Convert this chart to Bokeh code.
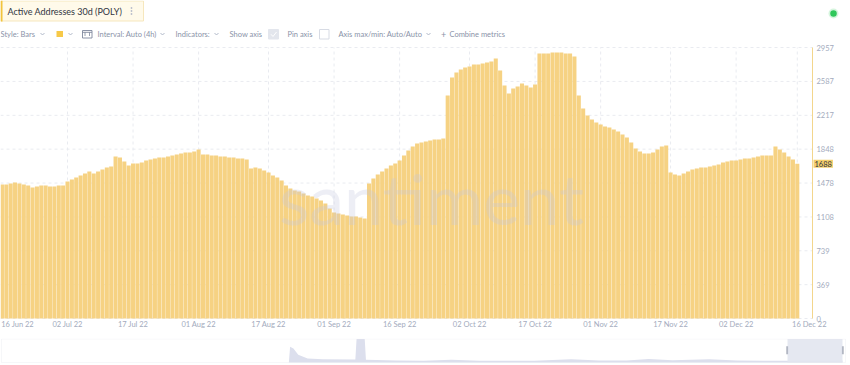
from datetime import datetime, timedelta
from bokeh.plotting import figure
from bokeh.layouts import column
from bokeh.models import Range1d, Label, BoxAnnotation, ColumnDataSource
from bokeh.core.properties import value
from bokeh.embed import file_html
from bokeh.resources import INLINE

# ---------------- data ----------------
metric_title = "Active Addresses 30d (POLY)"
first_day = datetime(2022, 6, 17)
addresses = [
    1462, 1462, 1473, 1484, 1473, 1462, 1451, 1429, 1440, 1451, 1451, 1440, 1440, 1451, 1451,
    1495, 1516, 1538, 1560, 1582, 1604, 1582, 1604, 1626, 1647, 1658,
    1767, 1757, 1713, 1669, 1691, 1691,
    1702, 1724, 1735, 1746, 1757, 1757, 1767, 1778, 1789, 1800, 1811, 1811, 1822, 1844,
    1789, 1789, 1778, 1778, 1767, 1767, 1757, 1757, 1746, 1746, 1735,
    1637, 1647, 1637, 1615, 1593, 1560, 1538, 1506,
    1451, 1418, 1396, 1386, 1364, 1342, 1331, 1309, 1287,
    1255, 1200, 1156, 1146, 1135, 1124, 1113, 1113, 1102, 1091,
    1473, 1527, 1571, 1604, 1637, 1669, 1691, 1724, 1778, 1833, 1877, 1909, 1920, 1931, 1942, 1953, 1953, 1964,
    2433, 2629, 2684, 2717, 2738, 2749, 2771, 2771, 2782, 2793, 2804, 2837,
    2706, 2542, 2455, 2509, 2531, 2564, 2542, 2520, 2553,
    2891, 2891, 2891, 2902, 2902, 2902, 2891, 2891, 2858,
    2433, 2291, 2215, 2171, 2138, 2117, 2095, 2084, 2062, 2040, 2007, 1975, 1920, 1855, 1822, 1800, 1800, 1811, 1844, 1877, 1887,
    1593, 1571, 1560, 1582, 1604, 1626, 1637, 1647, 1647, 1658, 1669, 1680, 1702, 1713, 1724, 1724, 1735, 1746, 1746, 1757, 1767, 1778, 1778, 1778,
    1877, 1844, 1811, 1767, 1735, 1688,
]
dates = [first_day + timedelta(days=i) for i in range(len(addresses))]
last_value = addresses[-1]

x_tick_dates = [datetime(2022, 6, 16), datetime(2022, 7, 2), datetime(2022, 7, 17),
                datetime(2022, 8, 1), datetime(2022, 8, 17), datetime(2022, 9, 1),
                datetime(2022, 9, 16), datetime(2022, 10, 2), datetime(2022, 10, 17),
                datetime(2022, 11, 1), datetime(2022, 11, 17), datetime(2022, 12, 2),
                datetime(2022, 12, 16)]
x_tick_labels = ["16 Jun 22", "02 Jul 22", "17 Jul 22", "01 Aug 22", "17 Aug 22", "01 Sep 22",
                 "16 Sep 22", "02 Oct 22", "17 Oct 22", "01 Nov 22", "17 Nov 22", "02 Dec 22",
                 "16 Dec 22"]
y_ticks = [0, 369, 739, 1108, 1478, 1848, 2217, 2587, 2957]
y_max = 2957

# overview (navigator) series
nav_dates = [datetime(2017, 12, 10), datetime(2017, 12, 14), datetime(2017, 12, 25),
             datetime(2018, 1, 10), datetime(2018, 2, 10), datetime(2018, 4, 1),
             datetime(2018, 7, 18), datetime(2018, 7, 22), datetime(2018, 8, 18),
             datetime(2018, 8, 22), datetime(2018, 12, 1), datetime(2019, 3, 1),
             datetime(2019, 6, 1), datetime(2019, 9, 1), datetime(2020, 3, 1),
             datetime(2020, 7, 1), datetime(2020, 10, 1), datetime(2021, 1, 1),
             datetime(2021, 3, 15), datetime(2021, 6, 1), datetime(2021, 10, 1),
             datetime(2022, 1, 1), datetime(2022, 6, 17), datetime(2022, 12, 16)]
nav_values = [0, 14000, 12500, 7000, 3500, 2800, 2600, 21000, 21000, 2500, 1800, 1500,
              2500, 1600, 1500, 3000, 1800, 1900, 3200, 2000, 2800, 1700, 1500, 1700]
selection = (datetime(2022, 6, 17), datetime(2022, 12, 16))

toolbar_items = ["Style: Bars", "Interval: Auto (4h)", "Indicators:", "Show axis", "Pin axis",
                 "Axis max/min: Auto/Auto", "Combine metrics"]

# ---------------- helpers ----------------
EPOCH = datetime(1970, 1, 1)
DAY_MS = 86400000.0


def ms(d):
    return (d - EPOCH).total_seconds() * 1000.0


FONT = value("Lato")
GREY = "#8a93a8"
LABEL_GREY = "#a3abbd"
BAR = "#f6d283"
GRID = "#e9ebf0"

# ---------------- header ----------------
head = figure(width=850, height=40, x_range=Range1d(0, 850), y_range=Range1d(40, 0),
              x_axis_type=None, y_axis_type=None, toolbar_location=None,
              output_backend="svg", min_border=0)
head.outline_line_color = None
head.quad(left=[0.5], right=[143], top=[0.5], bottom=[20.5], fill_color="#fffaea",
          line_color="#f6e7bd")
head.quad(left=[0], right=[2], top=[0], bottom=[21], fill_color="#f2c43d", line_color=None)
head.text(x=[7], y=[11], text=[metric_title], text_font=FONT, text_font_size="9px",
          text_color="#30353f", text_baseline="middle")
head.scatter(x=[131, 131, 131], y=[7.5, 10.5, 13.5], size=1.8, color="#b8bdca", line_color=None)
head.scatter(x=[833], y=[13], size=10, color="#d6f5de", line_color=None)
head.scatter(x=[833], y=[13], size=6.5, color="#2fc75a", line_color=None)

ty = 33.5
tool_x = [0, 97, 175, 229, 287, 338, 449]
head.text(x=tool_x, y=[ty] * len(tool_x), text=toolbar_items, text_font=FONT,
          text_font_size="7.5px", text_color=GREY, text_baseline="middle")
for cx in [42, 70, 162, 216, 428]:
    head.line(x=[cx - 2, cx, cx + 2], y=[32.5, 34.5, 32.5], line_color="#a8b0c2", line_width=0.9)
head.quad(left=[56], right=[62.5], top=[30.5], bottom=[36.5], fill_color="#f7c948", line_color=None)
head.quad(left=[82], right=[91.5], top=[30], bottom=[37.5], fill_color=None,
          line_color="#7f889d", line_width=0.9)
head.line(x=[82, 91.5], y=[31.8, 31.8], line_color="#7f889d", line_width=0.9)
head.segment(x0=[84.5, 89], y0=[31.8, 31.8], x1=[84.5, 89], y1=[35.5, 35.5],
             line_color="#7f889d", line_width=0.8)
head.quad(left=[268], right=[278], top=[29], bottom=[38.5], fill_color="#e3e6ed", line_color="#e3e6ed")
head.line(x=[270.5, 272.5, 276], y=[33.8, 36, 31.5], line_color="#ffffff", line_width=1)
head.quad(left=[319], right=[328.5], top=[29], bottom=[38.5], fill_color="#ffffff", line_color="#d7dbe4")
head.text(x=[443], y=[ty], text=["+"], text_font=FONT, text_font_size="9px",
          text_color=GREY, text_baseline="middle", text_align="center")

# ---------------- main chart ----------------
PX_PER_DAY = 4.37
x_start = datetime(2022, 6, 16, 16)
x0 = ms(x_start)


def px_x(px):
    return x0 + px / PX_PER_DAY * DAY_MS


k = y_max / 271.0          # data units per pixel vertically
p = figure(width=850, height=298, x_range=Range1d(x0, px_x(850)),
           y_range=Range1d(-20 * k, y_max + 7 * k), x_axis_type=None, y_axis_type=None,
           toolbar_location=None, output_backend="svg", min_border=0)
p.outline_line_color = None

axis_x = px_x(812)
tick_ms = [ms(d) for d in x_tick_dates]
p.segment(x0=[x0] * len(y_ticks), y0=y_ticks, x1=[axis_x] * len(y_ticks), y1=y_ticks,
          line_color=GRID, line_dash="3 3", line_width=1)
p.segment(x0=tick_ms, y0=[0] * len(tick_ms), x1=tick_ms, y1=[y_max] * len(tick_ms),
          line_color=GRID, line_dash="3 3", line_width=1)

src = ColumnDataSource(dict(x=[ms(d) for d in dates], top=addresses))
p.vbar(x="x", top="top", width=0.93 * DAY_MS, source=src, fill_color=BAR, line_color=None)

p.add_layout(Label(x=px_x(431), y=1320, text="santiment", text_align="center",
                   text_baseline="alphabetic", text_font="Lato",
                   text_font_size="70px", text_color="#c3c8dd", text_alpha=0.3))

p.segment(x0=[axis_x], y0=[0], x1=[axis_x], y1=[y_max], line_color="#f3d68c", line_width=1)
p.text(x=[axis_x] * len(y_ticks), y=y_ticks, text=[str(t) for t in y_ticks], x_offset=4,
       text_font=FONT, text_font_size="7.5px", text_color=LABEL_GREY,
       text_align="left", text_baseline="middle")
p.add_layout(Label(x=axis_x, y=last_value, x_offset=1, text=str(last_value),
                   text_font="Lato", text_font_size="7.5px", text_color="#2d3240",
                   text_baseline="middle", text_align="left",
                   background_fill_color="#f4cf6c", padding=1))

offsets = [0] * len(tick_ms)
offsets[0] = 20
offsets[-1] = 12
xl = ColumnDataSource(dict(x=tick_ms, y=[-6 * k] * len(tick_ms), text=x_tick_labels, off=offsets))
p.text(x="x", y="y", text="text", x_offset="off", source=xl, text_font=FONT,
       text_font_size="7.5px", text_color=LABEL_GREY, text_align="center",
       text_baseline="middle")

# ---------------- navigator ----------------
days_per_px = 182 / 55.0
nav_start = selection[0] - timedelta(days=787 * days_per_px)
nav_end = nav_start + timedelta(days=850 * days_per_px)
ny = 21500 / 24.0
nav = figure(width=850, height=27, x_range=Range1d(ms(nav_start), ms(nav_end)),
             y_range=Range1d(-3 * ny, 21500), x_axis_type=None, y_axis_type=None,
             toolbar_location=None, output_backend="svg", min_border=0)
nav.outline_line_color = None
nav.varea(x=[ms(d) for d in nav_dates], y1=[0] * len(nav_values), y2=nav_values,
          fill_color="#dcdfed")
box_left = ms(nav_start + timedelta(days=1 * days_per_px))
box_right = ms(nav_start + timedelta(days=845 * days_per_px))
nav.add_layout(BoxAnnotation(left=ms(selection[0]), right=ms(selection[1]),
                             top=21500 - 0.5 * ny, bottom=0,
                             fill_color="#e2e6f0", fill_alpha=0.9, line_color=None))
nav.add_layout(BoxAnnotation(left=box_left, right=box_right, top=21500 - 0.5 * ny, bottom=0,
                             fill_color=None, fill_alpha=0, line_color="#e2e5ec", line_width=1))
nav.rect(x=[ms(selection[0]), ms(selection[1])], y=[11000, 11000], width=2, height=8,
         width_units="screen", height_units="screen", fill_color="#8b91a1", line_color=None)

layout = column(head, p, nav, spacing=0)
open("out.html", "w").write(file_html(layout, INLINE))
